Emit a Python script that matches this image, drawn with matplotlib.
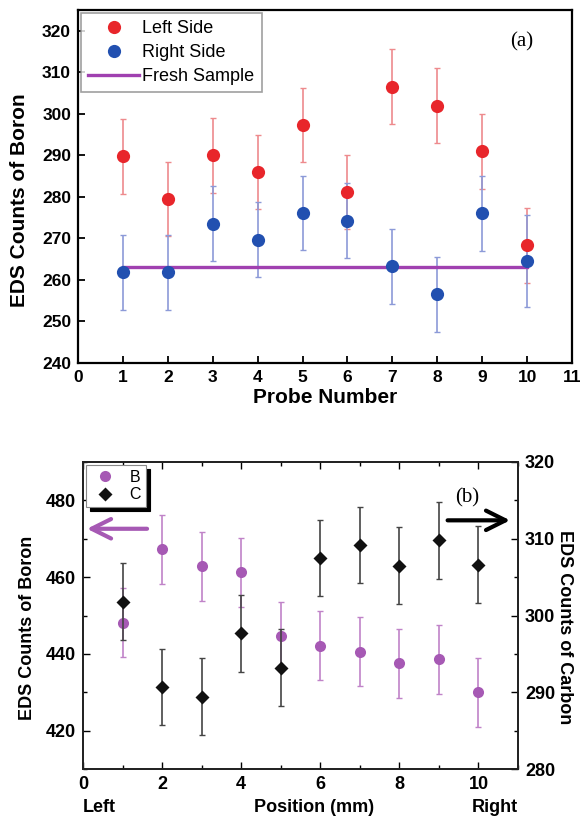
import matplotlib
matplotlib.use("Agg")
import matplotlib.pyplot as plt
from matplotlib.ticker import MultipleLocator
from matplotlib.lines import Line2D

plt.rcParams['font.family'] = ['Liberation Sans', 'DejaVu Sans']

# ---- Panel (a) data ----
probe = [1, 2, 3, 4, 5, 6, 7, 8, 9, 10]
left_side = [289.8, 279.5, 290.0, 286.0, 297.3, 281.2, 306.5, 302.0, 291.0, 268.3]
left_err = [9, 9, 9, 9, 9, 9, 9, 9, 9, 9]
right_side = [261.8, 261.8, 273.5, 269.7, 276.1, 274.3, 263.3, 256.5, 276.0, 264.6]
right_err = [9, 9, 9, 9, 9, 9, 9, 9, 9, 11]
fresh_x = [1, 10]
fresh_y = [263.2, 263.2]

# ---- Panel (b) data ----
position = [1, 2, 3, 4, 5, 6, 7, 8, 9, 10]
boron = [448.1, 467.3, 462.8, 461.3, 444.6, 442.1, 440.5, 437.6, 438.6, 430.0]
boron_err = [9, 9, 9, 9, 9, 9, 9, 9, 9, 9]
carbon = [301.8, 290.7, 289.4, 297.7, 293.2, 307.5, 309.2, 306.5, 309.8, 306.6]
carbon_err = [5, 5, 5, 5, 5, 5, 5, 5, 5, 5]

RED = '#e8262b'
BLUE = '#2250b0'
PURPLE = '#a040b0'
BPURPLE = '#a659b4'

W, H = 581, 818
fig = plt.figure(figsize=(W/100, H/100), dpi=100)

def fx(px):
    return px / W

def fy(py):
    return 1 - py / H

# ---------- Panel (a) ----------
ax1 = fig.add_axes([fx(78), fy(363), (572-78)/W, (363-10)/H])
ax1.errorbar(probe, left_side, yerr=left_err, fmt='none', ecolor='#ee8a8d',
             elinewidth=1.2, capsize=2.5, capthick=1.0, zorder=2)
ax1.errorbar(probe, right_side, yerr=right_err, fmt='none', ecolor='#8c9ad8',
             elinewidth=1.2, capsize=2.5, capthick=1.0, zorder=2)
ax1.plot(fresh_x, fresh_y, color=PURPLE, lw=2.4, zorder=3, label='Fresh Sample')
ax1.plot(probe, left_side, 'o', color=RED, ms=9.5, zorder=4, label='Left Side', mec='none')
ax1.plot(probe, right_side, 'o', color=BLUE, ms=9.5, zorder=4, label='Right Side', mec='none')

ax1.set_xlim(0, 11)
ax1.set_ylim(240, 325)
ax1.xaxis.set_major_locator(MultipleLocator(1))
ax1.yaxis.set_major_locator(MultipleLocator(10))
ax1.tick_params(direction='in', length=5, width=1.3, labelsize=12.5, pad=5,
                top=False, right=False)
for lab in ax1.get_xticklabels() + ax1.get_yticklabels():
    lab.set_fontweight('bold')
for s in ax1.spines.values():
    s.set_linewidth(1.6)
fig.text(fx(325), fy(397), 'Probe Number', fontsize=15, fontweight='bold',
         ha='center', va='center')
fig.text(fx(20), fy(200), 'EDS Counts of Boron', fontsize=15, fontweight='bold',
         ha='center', va='center', rotation=90)
h, l = ax1.get_legend_handles_labels()
order = [1, 2, 0]
leg1 = ax1.legend([h[i] for i in order], [l[i] for i in order], loc='upper left',
                  fontsize=13, frameon=True, fancybox=False, edgecolor='#888888',
                  borderaxespad=0.17, handlelength=2.8, handletextpad=0.2,
                  labelspacing=0.38, borderpad=0.4)
leg1.get_frame().set_linewidth(1.2)
fig.text(fx(522), fy(42), '(a)', fontsize=15, family='Liberation Serif',
         ha='center', va='center')

# ---------- Panel (b) ----------
ax2 = fig.add_axes([fx(83), fy(769), (518-83)/W, (769-462)/H])
ax3 = ax2.twinx()
ax2.errorbar(position, boron, yerr=boron_err, fmt='o', color=BPURPLE, ecolor='#c083c8',
             elinewidth=1.2, capsize=2.5, capthick=1.0, ms=8, mec='none', zorder=3)
ax3.errorbar(position, carbon, yerr=carbon_err, fmt='D', color='#111111', ecolor='#444444',
             elinewidth=1.2, capsize=2.5, capthick=1.0, ms=7.5, mec='none', zorder=3)

ax2.set_xlim(0, 11)
ax2.set_ylim(410, 490)
ax3.set_ylim(280, 320)
ax2.xaxis.set_major_locator(MultipleLocator(2))
ax2.xaxis.set_minor_locator(MultipleLocator(1))
ax2.yaxis.set_major_locator(MultipleLocator(20))
ax2.yaxis.set_minor_locator(MultipleLocator(10))
ax3.yaxis.set_major_locator(MultipleLocator(10))
ax3.yaxis.set_minor_locator(MultipleLocator(5))
ax2.tick_params(which='both', direction='in', width=1.0, labelsize=13, top=True,
                right=False, pad=5)
ax2.tick_params(which='major', length=5)
ax2.tick_params(which='minor', length=3)
ax3.tick_params(which='both', direction='in', width=1.0, labelsize=13, pad=5)
ax3.tick_params(which='major', length=5)
ax3.tick_params(which='minor', length=3)
for lab in ax2.get_xticklabels() + ax2.get_yticklabels() + ax3.get_yticklabels():
    lab.set_fontweight('bold')
for ax in (ax2, ax3):
    for s in ax.spines.values():
        s.set_linewidth(1.3)
        s.set_color('#222222')
fig.text(fx(28), fy(628), 'EDS Counts of Boron', fontsize=13, fontweight='bold',
         ha='center', va='center', rotation=90)
fig.text(fx(565), fy(627), 'EDS Counts of Carbon', fontsize=13, fontweight='bold',
         ha='center', va='center', rotation=270)
fig.text(fx(314), fy(807), 'Position (mm)', fontsize=13, fontweight='bold',
         ha='center', va='center')
fig.text(fx(83), fy(807), 'Left', fontsize=13, fontweight='bold',
         ha='left', va='center')
fig.text(fx(518), fy(807), 'Right', fontsize=13, fontweight='bold',
         ha='right', va='center')

hB = Line2D([], [], ls='none', marker='o', color=BPURPLE, ms=8, mec='none')
hC = Line2D([], [], ls='none', marker='D', color='#111111', ms=7.5, mec='none')
leg2 = ax3.legend([hB, hC], ['B', 'C'], loc='upper left', fontsize=11.5, frameon=True,
                  fancybox=False,
                  shadow={'ox': 3, 'oy': -3, 'color': 'black', 'alpha': 1},
                  edgecolor='#888888', borderaxespad=0.2, handlelength=1.8,
                  handletextpad=0.6, labelspacing=0.15, borderpad=0.3)
leg2.get_frame().set_linewidth(0.8)

# arrows
ax2.annotate('', xy=(0.03, 472.6), xytext=(1.69, 472.6),
             arrowprops=dict(arrowstyle='->,head_length=1.4,head_width=0.7',
                             color=BPURPLE, lw=3))
ax3.annotate('', xy=(10.87, 312.4), xytext=(9.15, 312.4),
             arrowprops=dict(arrowstyle='->,head_length=1.4,head_width=0.7',
                             color='black', lw=3))
fig.text(fx(467), fy(498), '(b)', fontsize=15, family='Liberation Serif',
         ha='center', va='center')

fig.savefig('out.png', dpi=100)
